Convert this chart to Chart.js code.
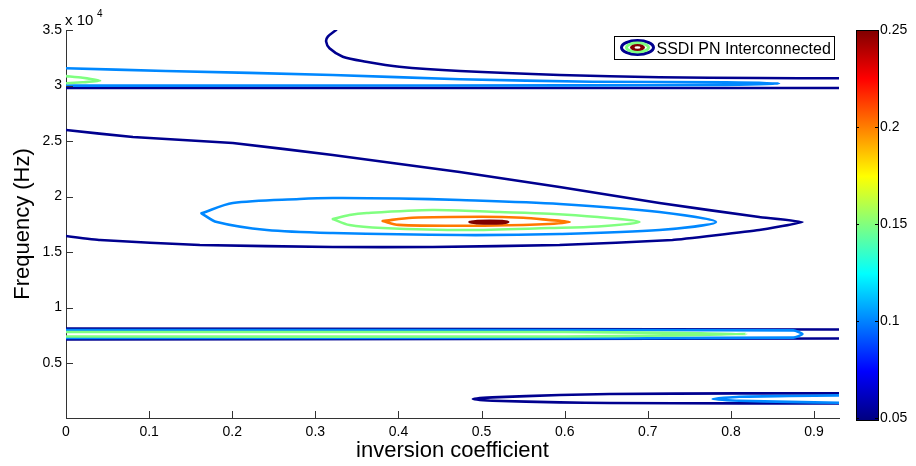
<!DOCTYPE html>
<html>
<head>
<meta charset="utf-8">
<script src="https://cdn.jsdelivr.net/npm/chart.js@4.4.1/dist/chart.umd.min.js"></script>
<style>
  html, body { margin: 0; padding: 0; background: #fff; }
  #wrap { width: 916px; height: 466px; }
</style>
</head>
<body>
<div id="wrap"><canvas id="chart" width="916" height="466"></canvas></div>
<script>
// contour levels and their jet colours
const levels = [0.05, 0.1, 0.15, 0.2, 0.25]
const levelColors = ['#00008f', '#0088ff', '#80ff80', '#ff7800', '#800000']

const xTicks = [0, 0.1, 0.2, 0.3, 0.4, 0.5, 0.6, 0.7, 0.8, 0.9]
const yTicks = [5000, 10000, 15000, 20000, 25000, 30000, 35000]
const cbTicks = [0.05, 0.1, 0.15, 0.2, 0.25]

// contour paths: [inversion coefficient, frequency (Hz)]
// level 0.05
const l05Arc = [[0.325,35000],[0.315,34400],[0.313,33950],[0.317,33350],[0.333,32590],[0.361,32140],[0.401,31690],[0.474,31310],[0.594,30950],[0.714,30740],[0.834,30670],[0.93,30650]]
const l05Line30k = [[0,29790],[0.3,29785],[0.6,29780],[0.93,29780]]
const l05Wedge = [[0,25990],[0.0805,25360],[0.2007,24820],[0.3209,23740],[0.4736,22210],[0.5938,20860],[0.714,19410],[0.834,18150],[0.886,17700],[0.834,16980],[0.7296,16080],[0.5938,15630],[0.441,15450],[0.3209,15450],[0.161,15630],[0.041,16080],[0,16440]]
const l05BandTop = [[0,8100],[0.5,8060],[0.93,8018]]
const l05BandBottom = [[0,7135],[0.5,7170],[0.93,7207]]
const l05Hairpin = [[0.93,2270],[0.81,2270],[0.654,2207],[0.594,2117],[0.513,1910],[0.4895,1757],[0.513,1604],[0.594,1459],[0.654,1396],[0.81,1369],[0.93,1369]]
// level 0.1
const l10Top = [[0,31550],[0.12,31310],[0.321,30950],[0.474,30560],[0.633,30340],[0.794,30290],[0.858,30180],[0.794,30060],[0.6,30010],[0.3,29995],[0,29990]]
const l10Ellipse = [[0.163,18490],[0.2007,19410],[0.281,19775],[0.321,19865],[0.401,19820],[0.474,19685],[0.594,19325],[0.714,18600],[0.782,17700],[0.714,16980],[0.594,16620],[0.474,16530],[0.321,16710],[0.2416,16980],[0.1815,17700],[0.163,18490]]
const l10Band = [[0,7973],[0.5,7973],[0.875,7940],[0.886,7613],[0.875,7290],[0.5,7252],[0,7252]]
const l10Bottom = [[0.93,2090],[0.87,2030],[0.81,1964],[0.778,1757],[0.81,1604],[0.87,1500],[0.93,1423]]
// level 0.15
const l15Top = [[0,30850],[0.02,30700],[0.041,30430],[0.02,30290],[0,30200]]
const l15Ellipse = [[0.321,17970],[0.341,18330],[0.362,18510],[0.441,18780],[0.5216,18600],[0.5817,18450],[0.64,18150],[0.69,17700],[0.64,17300],[0.5817,17160],[0.482,16980],[0.381,17160],[0.341,17430],[0.321,17970]]
const l15Band = [[0,7793],[0.6,7793],[0.72,7720],[0.8185,7613],[0.72,7480],[0.6,7388],[0,7388]]
// level 0.2
const l20Ellipse = [[0.381,17790],[0.4167,18090],[0.5,18180],[0.55,18090],[0.58,17900],[0.606,17700],[0.58,17520],[0.55,17430],[0.4888,17370],[0.4,17450],[0.381,17790]]
// level 0.25
const l25Peak = [[0.4856,17700],[0.495,17800],[0.525,17800],[0.532,17700],[0.525,17600],[0.495,17600],[0.4856,17700]]

const contours = [
  { level: 0, path: l05Arc, tension: 0.3 },
  { level: 0, path: l05Line30k, tension: 0 },
  { level: 0, path: l05Wedge, tension: 0.1 },
  { level: 0, path: l05BandTop, tension: 0 },
  { level: 0, path: l05BandBottom, tension: 0 },
  { level: 0, path: l05Hairpin, tension: 0.2 },
  { level: 1, path: l10Top, tension: 0.2 },
  { level: 1, path: l10Ellipse, tension: 0.3 },
  { level: 1, path: l10Band, tension: 0.2 },
  { level: 1, path: l10Bottom, tension: 0.2 },
  { level: 2, path: l15Top, tension: 0.2 },
  { level: 2, path: l15Ellipse, tension: 0.3 },
  { level: 2, path: l15Band, tension: 0.2 },
  { level: 3, path: l20Ellipse, tension: 0.3 },
  { level: 4, path: l25Peak, tension: 0.2 },
]

const font = '"Liberation Sans", Arial, sans-serif'
const axisColor = '#333'
Chart.defaults.font.family = font
Chart.defaults.color = '#000'

const datasets = contours.map(c => ({
  label: 'level ' + levels[c.level],
  data: c.path.map(p => ({ x: p[0], y: p[1] })),
  showLine: true,
  borderColor: levelColors[c.level],
  borderWidth: 2.6,
  pointRadius: 0,
  tension: c.tension,
  borderJoinStyle: 'round',
  borderCapStyle: 'round',
  order: levels.length - c.level
}))

// tick marks, x10^4, colorbar and legend
const extras = {
  id: 'extras',
  afterDraw(chart) {
    const ctx = chart.ctx
    const a = chart.chartArea
    const xs = chart.scales.x, ys = chart.scales.y, cb = chart.scales.cb
    ctx.save()

    ctx.strokeStyle = axisColor
    ctx.lineWidth = 1
    ctx.beginPath()
    xTicks.forEach(v => {
      const px = Math.round(xs.getPixelForValue(v)) + 0.5
      ctx.moveTo(px, a.bottom); ctx.lineTo(px, a.bottom - 7)
    })
    yTicks.forEach(v => {
      const py = Math.round(ys.getPixelForValue(v)) + 0.5
      ctx.moveTo(a.left, py); ctx.lineTo(a.left + 7, py)
    })
    ctx.stroke()

    ctx.fillStyle = '#000'
    ctx.textBaseline = 'alphabetic'
    ctx.font = '15px ' + font
    ctx.fillText('x 10', a.left - 1, 25)
    ctx.font = '10px ' + font
    ctx.fillText('4', a.left + 31, 17)

    // colorbar
    const bx = a.right + 17, bw = 22
    const top = cb.getPixelForValue(0.25), bot = cb.getPixelForValue(0.05) + 2
    const g = ctx.createLinearGradient(0, bot, 0, top)
    g.addColorStop(0, '#000080')
    g.addColorStop(0.125, '#0000ff')
    g.addColorStop(0.375, '#00ffff')
    g.addColorStop(0.625, '#ffff00')
    g.addColorStop(0.875, '#ff0000')
    g.addColorStop(1, '#800000')
    ctx.fillStyle = g
    ctx.fillRect(bx, top, bw, bot - top)
    ctx.strokeStyle = '#000'
    ctx.strokeRect(bx + 0.5, top + 0.5, bw, bot - top)
    ctx.beginPath()
    cbTicks.forEach(v => {
      const py = Math.round(cb.getPixelForValue(v)) + 0.5
      ctx.moveTo(bx, py); ctx.lineTo(bx + 3, py)
      ctx.moveTo(bx + bw - 3, py); ctx.lineTo(bx + bw, py)
    })
    ctx.stroke()

    // legend
    const lx = 614.5, ly = 36.5
    ctx.fillStyle = '#fff'
    ctx.fillRect(lx, ly, 220, 23)
    ctx.strokeStyle = '#000'
    ctx.strokeRect(lx, ly, 220, 23)
    const cx = lx + 23, cy = ly + 11
    ctx.lineWidth = 3
    ctx.strokeStyle = levelColors[0]
    ctx.beginPath(); ctx.ellipse(cx, cy, 16, 7, 0, 0, Math.PI * 2); ctx.stroke()
    ctx.strokeStyle = levelColors[2]
    ctx.beginPath(); ctx.ellipse(cx, cy, 11, 4.5, 0, 0, Math.PI * 2); ctx.stroke()
    ctx.fillStyle = levelColors[4]
    ctx.beginPath(); ctx.ellipse(cx, cy, 7.5, 3.5, 0, 0, Math.PI * 2); ctx.fill()
    ctx.fillStyle = '#fff'
    ctx.beginPath(); ctx.ellipse(cx, cy, 3, 1.3, 0, 0, Math.PI * 2); ctx.fill()
    ctx.fillStyle = '#000'
    ctx.font = '16px ' + font
    ctx.fillText('SSDI PN Interconnected', lx + 42, ly + 17)

    ctx.restore()
  }
}

new Chart(document.getElementById('chart'), {
  type: 'scatter',
  data: { datasets },
  options: {
    responsive: false,
    animation: false,
    devicePixelRatio: 1,
    layout: { padding: { top: 30, right: 0, bottom: 0, left: 0 } },
    plugins: { legend: { display: false }, tooltip: { enabled: false } },
    scales: {
      x: {
        type: 'linear', min: 0, max: 0.93,
        grid: { display: false, drawTicks: false },
        border: { display: true, color: axisColor, width: 1 },
        afterBuildTicks: s => { s.ticks = xTicks.map(v => ({ value: v })) },
        afterFit: s => { s.height = 48 },
        ticks: { font: { size: 14 }, padding: 6, maxRotation: 0, callback: v => String(v) },
        title: { display: true, text: 'inversion coefficient', font: { size: 22 }, padding: { top: 0, bottom: 2 } }
      },
      y: {
        type: 'linear', min: 50, max: 35000,
        grid: { display: false, drawTicks: false },
        border: { display: true, color: axisColor, width: 1 },
        afterBuildTicks: s => { s.ticks = yTicks.map(v => ({ value: v })) },
        afterFit: s => { s.width = 66 },
        ticks: { font: { size: 14 }, padding: 4, callback: v => String(v / 10000) },
        title: { display: true, text: 'Frequency (Hz)', font: { size: 22 }, padding: { top: 10, bottom: 0 } }
      },
      cb: {
        type: 'linear', axis: 'y', position: 'right', min: 0.05, max: 0.25,
        grid: { display: false, drawTicks: true, tickLength: 41 },
        border: { display: false },
        afterBuildTicks: s => { s.ticks = cbTicks.map(v => ({ value: v })) },
        afterFit: s => { s.width = 77 },
        ticks: { font: { size: 14 }, padding: 0, callback: v => String(v) }
      }
    }
  },
  plugins: [extras]
})
</script>
</body>
</html>
